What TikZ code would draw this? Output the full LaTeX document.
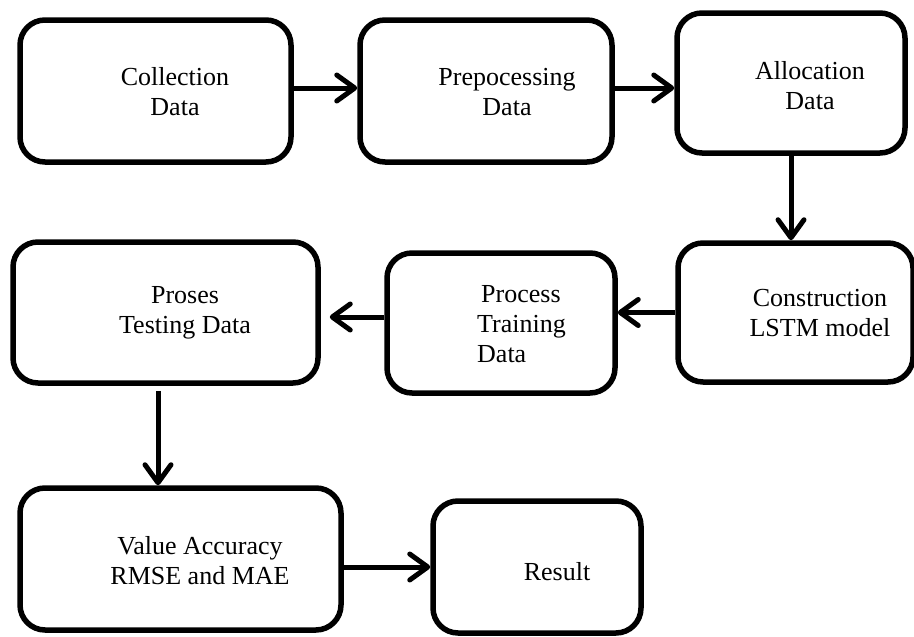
\documentclass[tikz,border=0pt]{standalone}
\usepackage{fontspec}
\setmainfont{Liberation Serif}
\usetikzlibrary{arrows.meta}
\begin{document}
\begin{tikzpicture}[x=1pt,y=-1pt,
  box/.style={draw, line width=5.5pt, rounded corners=25pt, inner sep=0pt},
  lbl/.style={font=\fontsize{26}{30}\selectfont, align=center, inner sep=0pt},
  flow/.style={line width=5pt, -{Straight Barb[length=18pt,width=26pt,round]}}]
\useasboundingbox (0,0) rectangle (914,637);
% boxes
\node[box, minimum width=271pt, minimum height=142pt] (b1) at (155.5,91) {};
\node[box, minimum width=252pt, minimum height=142pt] (b2) at (486,91) {};
\node[box, minimum width=228pt, minimum height=140pt] (b3) at (791,83) {};
\node[box, minimum width=235pt, minimum height=139pt] (b4) at (795.5,312.5) {};
\node[box, minimum width=228pt, minimum height=140pt] (b5) at (501,323) {};
\node[box, minimum width=305pt, minimum height=141pt] (b6) at (165.5,312.5) {};
\node[box, minimum width=321pt, minimum height=142pt] (b7) at (180.5,559) {};
\node[box, minimum width=208pt, minimum height=132pt] (b8) at (537,567) {};
% labels
\node[lbl] (t1) at (175,92) {Collection\\Data};
\node[lbl] (t2) at (507,92) {Prepocessing\\Data};
\node[lbl] (t3) at (810,86) {Allocation\\Data};
\node[lbl] (t4) at (820,313) {Construction\\LSTM model};
\node[lbl, align=left, anchor=west] (t5) at (477,324) {\hspace*{4pt}Process\\Training\\Data};
\node[lbl] (t6) at (185,313) {Proses\\Testing Data};
\node[lbl] (t7) at (200,561) {Value Accuracy\\RMSE and MAE};
\node[lbl] (t8) at (557,572) {Result};
% connectors
\draw[flow] ([yshift=3pt]b1.east) -- ([yshift=3pt]b2.west);
\draw[flow] ([yshift=3pt]b2.east) -- ([yshift=3pt]b2.east -| b3.west);
\draw[flow] (b3.south) -- (b3.south |- b4.north);
\draw[flow] (b4.west) -- (b4.west -| b5.east);
\draw[flow, shorten >=9pt] ([yshift=6pt]b5.west) -- ([yshift=6pt]b5.west -| b6.east);
\draw[flow, shorten <=5pt] ([xshift=-7.5pt]b6.south) -- ([xshift=-7.5pt]b6.south |- b7.north);
\draw[flow] (b8.west -| b7.east) -- (b8.west);
\end{tikzpicture}
\end{document}
